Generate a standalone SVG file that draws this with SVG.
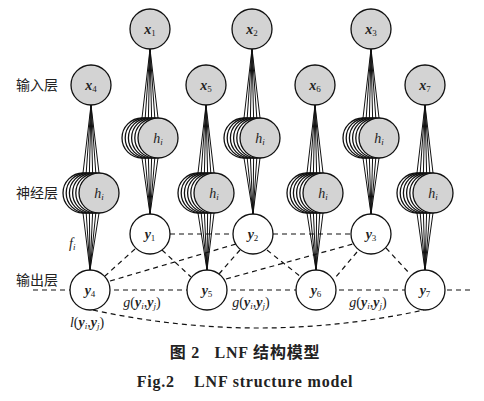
<svg xmlns="http://www.w3.org/2000/svg" width="484" height="401" viewBox="0 0 484 401">
<defs>
<style>
.in{fill:#d3d3d3;stroke:#111;stroke-width:1.3}
.bk{fill:#fff;stroke:#111;stroke-width:1.3}
.out{fill:#fff;stroke:#111;stroke-width:1.3}
.fan{stroke:#111;stroke-width:1;fill:none}
.dash{stroke:#111;stroke-width:1.2;fill:none;stroke-dasharray:5 4}
.lbl{font-family:"Liberation Serif",serif;font-size:14px;fill:#222}
.bi{font-weight:bold;font-style:italic}
.it{font-style:italic}
.sub{font-size:9px}
.cn{font-family:"Liberation Serif","Noto Sans CJK SC",serif;font-size:14px;fill:#222}
.cap{font-family:"Liberation Serif","Noto Sans CJK SC",serif;font-size:16px;font-weight:bold;fill:#222;letter-spacing:0.8px}
</style>
</defs>
<rect width="484" height="401" fill="#fff"/>

<g id="connectors">
<g class="fan">
<path d="M150 49L142 118M150 49L145.2 118M150 49L148.4 118M150 49L151.6 118M150 49L154.8 118M150 49L158 118"/>
<path d="M142 158L150 214M145.2 158L150 214M148.4 158L150 214M151.6 158L150 214M154.8 158L150 214M158 158L150 214"/>
<path d="M252 49L244 118M252 49L247.2 118M252 49L250.4 118M252 49L253.6 118M252 49L256.8 118M252 49L260 118"/>
<path d="M244 158L253 214M247.2 158L253 214M250.4 158L253 214M253.6 158L253 214M256.8 158L253 214M260 158L253 214"/>
<path d="M371 49L363 118M371 49L366.2 118M371 49L369.4 118M371 49L372.6 118M371 49L375.8 118M371 49L379 118"/>
<path d="M363 158L371 214M366.2 158L371 214M369.4 158L371 214M372.6 158L371 214M375.8 158L371 214M379 158L371 214"/>
<path d="M91 105L83 173M91 105L86.2 173M91 105L89.4 173M91 105L92.6 173M91 105L95.8 173M91 105L99 173"/>
<path d="M83 213L90 270M86.2 213L90 270M89.4 213L90 270M92.6 213L90 270M95.8 213L90 270M99 213L90 270"/>
<path d="M206 105L198 173M206 105L201.2 173M206 105L204.4 173M206 105L207.6 173M206 105L210.8 173M206 105L214 173"/>
<path d="M198 213L207 270M201.2 213L207 270M204.4 213L207 270M207.6 213L207 270M210.8 213L207 270M214 213L207 270"/>
<path d="M315 105L307 173M315 105L310.2 173M315 105L313.4 173M315 105L316.6 173M315 105L319.8 173M315 105L323 173"/>
<path d="M307 213L316 270M310.2 213L316 270M313.4 213L316 270M316.6 213L316 270M319.8 213L316 270M323 213L316 270"/>
<path d="M425 105L417 173M425 105L420.2 173M425 105L423.4 173M425 105L426.6 173M425 105L429.8 173M425 105L433 173"/>
<path d="M417 213L425 270M420.2 213L425 270M423.4 213L425 270M426.6 213L425 270M429.8 213L425 270M433 213L425 270"/>
</g>
<g class="dash">
<path d="M33 290H472"/>
<path d="M170 234H233"/>
<path d="M273 234H351"/>
<path d="M135 249L105 276"/>
<path d="M162 250L191 277"/>
<path d="M110 281L236 244"/>
<path d="M219 274L240 250"/>
<path d="M226 279L353 244"/>
<path d="M267 250L301 277"/>
<path d="M357 252L335 278"/>
<path d="M386 248L410 274"/>
<path d="M93 310Q258 346 424 310"/>
</g>
</g>

<g id="x1"><circle class="in" cx="150" cy="29" r="20"/><text class="lbl" x="150" y="34" text-anchor="middle"><tspan class="bi">x</tspan><tspan class="sub" dy="2">1</tspan></text></g>
<g id="x2"><circle class="in" cx="252" cy="29" r="20"/><text class="lbl" x="252" y="34" text-anchor="middle"><tspan class="bi">x</tspan><tspan class="sub" dy="2">2</tspan></text></g>
<g id="x3"><circle class="in" cx="371" cy="29" r="20"/><text class="lbl" x="371" y="34" text-anchor="middle"><tspan class="bi">x</tspan><tspan class="sub" dy="2">3</tspan></text></g>
<g id="x4"><circle class="in" cx="91" cy="85" r="20"/><text class="lbl" x="91" y="90" text-anchor="middle"><tspan class="bi">x</tspan><tspan class="sub" dy="2">4</tspan></text></g>
<g id="x5"><circle class="in" cx="206" cy="85" r="20"/><text class="lbl" x="206" y="90" text-anchor="middle"><tspan class="bi">x</tspan><tspan class="sub" dy="2">5</tspan></text></g>
<g id="x6"><circle class="in" cx="315" cy="85" r="20"/><text class="lbl" x="315" y="90" text-anchor="middle"><tspan class="bi">x</tspan><tspan class="sub" dy="2">6</tspan></text></g>
<g id="x7"><circle class="in" cx="425" cy="85" r="20"/><text class="lbl" x="425" y="90" text-anchor="middle"><tspan class="bi">x</tspan><tspan class="sub" dy="2">7</tspan></text></g>

<g id="h1"><circle class="bk" cx="142" cy="138" r="20"/><circle class="bk" cx="145.2" cy="138" r="20"/><circle class="bk" cx="148.4" cy="138" r="20"/><circle class="bk" cx="151.6" cy="138" r="20"/><circle class="bk" cx="154.8" cy="138" r="20"/><circle class="in" cx="158" cy="138" r="20"/><text class="lbl" x="158" y="143" text-anchor="middle"><tspan class="it">h</tspan><tspan class="sub it" dy="2">i</tspan></text></g>
<g id="h2"><circle class="bk" cx="244" cy="138" r="20"/><circle class="bk" cx="247.2" cy="138" r="20"/><circle class="bk" cx="250.4" cy="138" r="20"/><circle class="bk" cx="253.6" cy="138" r="20"/><circle class="bk" cx="256.8" cy="138" r="20"/><circle class="in" cx="260" cy="138" r="20"/><text class="lbl" x="260" y="143" text-anchor="middle"><tspan class="it">h</tspan><tspan class="sub it" dy="2">i</tspan></text></g>
<g id="h3"><circle class="bk" cx="363" cy="138" r="20"/><circle class="bk" cx="366.2" cy="138" r="20"/><circle class="bk" cx="369.4" cy="138" r="20"/><circle class="bk" cx="372.6" cy="138" r="20"/><circle class="bk" cx="375.8" cy="138" r="20"/><circle class="in" cx="379" cy="138" r="20"/><text class="lbl" x="379" y="143" text-anchor="middle"><tspan class="it">h</tspan><tspan class="sub it" dy="2">i</tspan></text></g>
<g id="h4"><circle class="bk" cx="83" cy="193" r="20"/><circle class="bk" cx="86.2" cy="193" r="20"/><circle class="bk" cx="89.4" cy="193" r="20"/><circle class="bk" cx="92.6" cy="193" r="20"/><circle class="bk" cx="95.8" cy="193" r="20"/><circle class="in" cx="99" cy="193" r="20"/><text class="lbl" x="99" y="198" text-anchor="middle"><tspan class="it">h</tspan><tspan class="sub it" dy="2">i</tspan></text></g>
<g id="h5"><circle class="bk" cx="198" cy="193" r="20"/><circle class="bk" cx="201.2" cy="193" r="20"/><circle class="bk" cx="204.4" cy="193" r="20"/><circle class="bk" cx="207.6" cy="193" r="20"/><circle class="bk" cx="210.8" cy="193" r="20"/><circle class="in" cx="214" cy="193" r="20"/><text class="lbl" x="214" y="198" text-anchor="middle"><tspan class="it">h</tspan><tspan class="sub it" dy="2">i</tspan></text></g>
<g id="h6"><circle class="bk" cx="307" cy="193" r="20"/><circle class="bk" cx="310.2" cy="193" r="20"/><circle class="bk" cx="313.4" cy="193" r="20"/><circle class="bk" cx="316.6" cy="193" r="20"/><circle class="bk" cx="319.8" cy="193" r="20"/><circle class="in" cx="323" cy="193" r="20"/><text class="lbl" x="323" y="198" text-anchor="middle"><tspan class="it">h</tspan><tspan class="sub it" dy="2">i</tspan></text></g>
<g id="h7"><circle class="bk" cx="417" cy="193" r="20"/><circle class="bk" cx="420.2" cy="193" r="20"/><circle class="bk" cx="423.4" cy="193" r="20"/><circle class="bk" cx="426.6" cy="193" r="20"/><circle class="bk" cx="429.8" cy="193" r="20"/><circle class="in" cx="433" cy="193" r="20"/><text class="lbl" x="433" y="198" text-anchor="middle"><tspan class="it">h</tspan><tspan class="sub it" dy="2">i</tspan></text></g>

<g id="y1"><circle class="out" cx="150" cy="234" r="20"/><text class="lbl" x="150" y="239" text-anchor="middle"><tspan class="bi">y</tspan><tspan class="sub" dy="2">1</tspan></text></g>
<g id="y2"><circle class="out" cx="253" cy="234" r="20"/><text class="lbl" x="253" y="239" text-anchor="middle"><tspan class="bi">y</tspan><tspan class="sub" dy="2">2</tspan></text></g>
<g id="y3"><circle class="out" cx="371" cy="234" r="20"/><text class="lbl" x="371" y="239" text-anchor="middle"><tspan class="bi">y</tspan><tspan class="sub" dy="2">3</tspan></text></g>
<g id="y4"><circle class="out" cx="90" cy="290" r="20"/><text class="lbl" x="90" y="295" text-anchor="middle"><tspan class="bi">y</tspan><tspan class="sub" dy="2">4</tspan></text></g>
<g id="y5"><circle class="out" cx="207" cy="290" r="20"/><text class="lbl" x="207" y="295" text-anchor="middle"><tspan class="bi">y</tspan><tspan class="sub" dy="2">5</tspan></text></g>
<g id="y6"><circle class="out" cx="316" cy="290" r="20"/><text class="lbl" x="316" y="295" text-anchor="middle"><tspan class="bi">y</tspan><tspan class="sub" dy="2">6</tspan></text></g>
<g id="y7"><circle class="out" cx="425" cy="290" r="20"/><text class="lbl" x="425" y="295" text-anchor="middle"><tspan class="bi">y</tspan><tspan class="sub" dy="2">7</tspan></text></g>

<g id="labels">
<text class="cn" x="16" y="90">输入层</text>
<text class="cn" x="16" y="198">神经层</text>
<text class="cn" x="16" y="285">输出层</text>
<text class="lbl" x="69" y="248"><tspan class="it">f</tspan><tspan class="sub it" dy="2">i</tspan></text>
<text class="lbl" x="142" y="307" text-anchor="middle"><tspan class="it">g</tspan>(<tspan class="bi">y</tspan><tspan class="sub it" dy="2">i</tspan><tspan dy="-2">,</tspan><tspan class="bi">y</tspan><tspan class="sub it" dy="2">j</tspan><tspan dy="-2">)</tspan></text>
<text class="lbl" x="251" y="307" text-anchor="middle"><tspan class="it">g</tspan>(<tspan class="bi">y</tspan><tspan class="sub it" dy="2">i</tspan><tspan dy="-2">,</tspan><tspan class="bi">y</tspan><tspan class="sub it" dy="2">j</tspan><tspan dy="-2">)</tspan></text>
<text class="lbl" x="368" y="307" text-anchor="middle"><tspan class="it">g</tspan>(<tspan class="bi">y</tspan><tspan class="sub it" dy="2">i</tspan><tspan dy="-2">,</tspan><tspan class="bi">y</tspan><tspan class="sub it" dy="2">j</tspan><tspan dy="-2">)</tspan></text>
<text class="lbl" x="87" y="327" text-anchor="middle"><tspan class="it">l</tspan>(<tspan class="bi">y</tspan><tspan class="sub it" dy="2">i</tspan><tspan dy="-2">,</tspan><tspan class="bi">y</tspan><tspan class="sub it" dy="2">j</tspan><tspan dy="-2">)</tspan></text>
<text class="cap" x="245" y="358" text-anchor="middle" xml:space="preserve">图 2   LNF 结构模型</text>
<text class="cap" x="245" y="387" text-anchor="middle" xml:space="preserve">Fig.2    LNF structure model</text>
</g>
</svg>
